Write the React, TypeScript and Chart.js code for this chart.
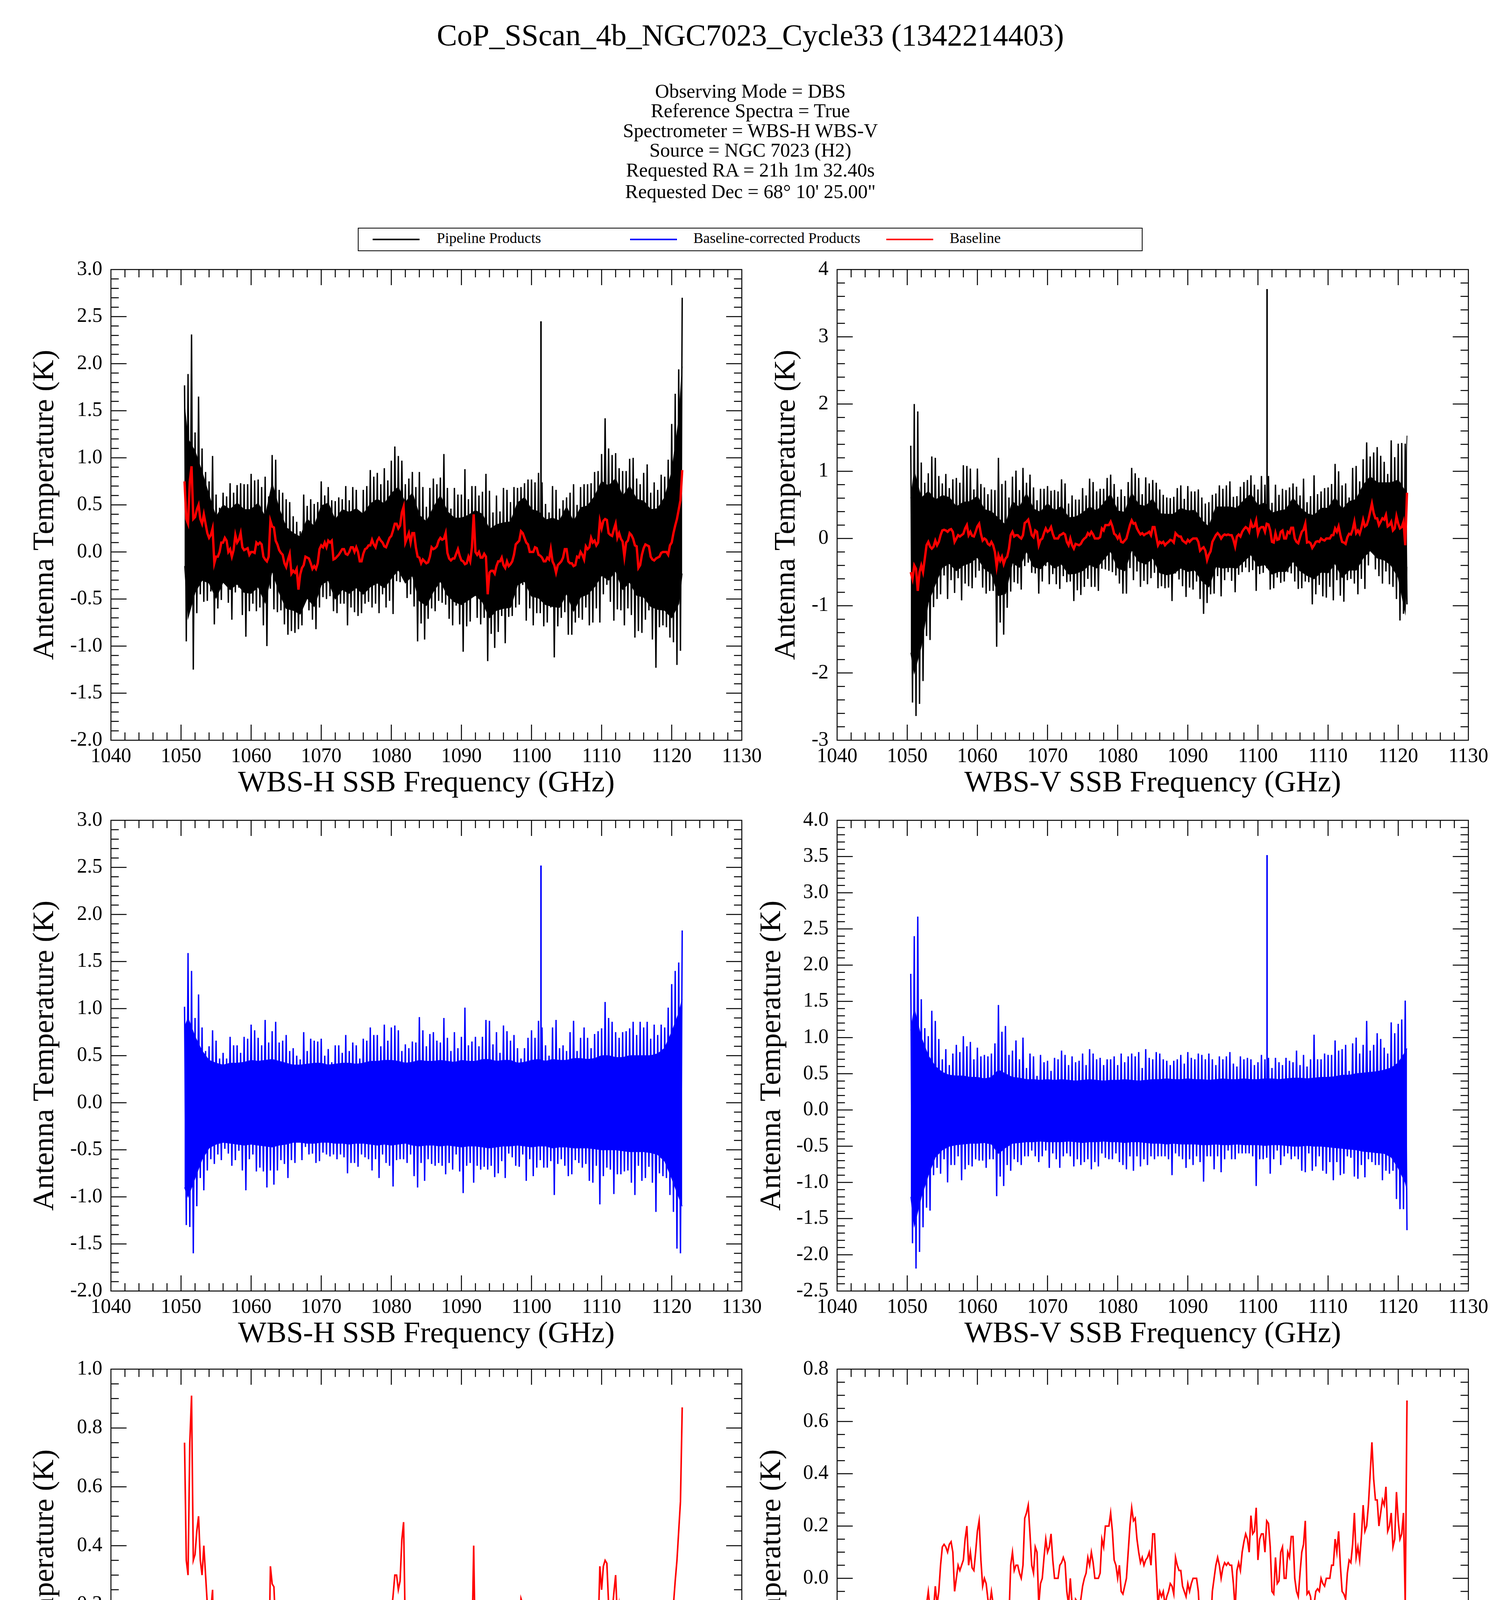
import React, { useEffect, useRef } from 'react';
import { Chart, registerables } from 'chart.js';

Chart.register(...registerables);

const FONT = "'Liberation Serif', 'Times New Roman', Times, serif";

// ---------------- data ----------------
const FREQ_START = 1050.5; // GHz, first channel of both spectrometers
const FREQ_STEP = 0.25; // GHz between listed baseline samples
const FREQ_END_H = 1121.5; // last WBS-H channel
const FREQ_END_V = 1121.25; // last WBS-V channel

const X_MIN = 1040;
const X_MAX = 1130;
const X_STEP = 10;

// Baseline (red), WBS-H, 1050.50 ... 1121.50 GHz
const BASELINE_H = [
  0.75, 0.35,
  0.30, 0.75, 0.91, 0.35,
  0.37, 0.45, 0.50, 0.35,
  0.30, 0.40, 0.30, 0.20,
  0.15, 0.18, 0.25, -0.12,
  -0.05, -0.05, 0.00, 0.10,
  0.10, 0.15, 0.12, 0.00,
  0.03, -0.05, 0.02, 0.18,
  0.10, 0.13, 0.20, 0.05,
  0.02, 0.03, 0.04, -0.03,
  0.00, 0.00, -0.01, 0.10,
  0.08, 0.10, 0.08, -0.05,
  -0.08, -0.10, -0.05, 0.33,
  0.27, 0.26, 0.12, 0.08,
  0.02, -0.01, -0.03, -0.12,
  -0.16, -0.08, -0.02, -0.23,
  -0.20, -0.22, -0.18, -0.40,
  -0.24, -0.17, -0.14, -0.05,
  -0.06, -0.07, -0.12, -0.18,
  -0.15, -0.18, -0.12, 0.03,
  0.07, 0.05, 0.10, 0.05,
  0.12, 0.10, 0.12, -0.08,
  -0.07, -0.05, -0.03, 0.00,
  0.03, 0.03, -0.02, -0.03,
  0.00, 0.05, 0.05, 0.00,
  0.05, 0.00, -0.10, -0.10,
  -0.02, 0.03, 0.04, 0.07,
  0.07, 0.13, 0.08, 0.05,
  0.12, 0.15, 0.12, 0.10,
  0.06, 0.05, 0.10, 0.15,
  0.17, 0.23, 0.30, 0.30,
  0.25, 0.28, 0.42, 0.48,
  0.10, 0.15, 0.20, 0.10,
  0.20, 0.20, 0.05, -0.05,
  -0.06, -0.12, -0.08, -0.10,
  -0.12, -0.11, -0.05, 0.05,
  0.03, 0.04, 0.06, 0.12,
  0.15, 0.13, 0.14, 0.20,
  -0.01, -0.07, -0.09, -0.07,
  -0.07, -0.02, 0.03, -0.04,
  -0.09, -0.10, -0.13, -0.12,
  -0.05, -0.10, 0.05, 0.40,
  0.00, -0.03, 0.00, -0.06,
  -0.06, -0.02, -0.05, -0.45,
  -0.22, -0.20, -0.20, -0.23,
  -0.15, -0.10, -0.10, -0.06,
  -0.14, -0.17, -0.10, -0.15,
  -0.13, -0.10, -0.03, 0.08,
  0.10, 0.12, 0.22, 0.20,
  0.15, 0.10, 0.08, 0.00,
  0.00, 0.00, 0.05, 0.04,
  -0.03, -0.04, -0.06, -0.10,
  -0.10, -0.06, -0.08, 0.03,
  -0.10, -0.14, -0.22, -0.14,
  -0.12, -0.10, -0.06, 0.03,
  0.03, -0.10, -0.12, -0.12,
  -0.15, -0.14, -0.05, -0.06,
  0.00, -0.03, -0.08, 0.06,
  0.03, 0.05, 0.15, 0.10,
  0.12, 0.07, 0.10, 0.33,
  0.25, 0.33, 0.35, 0.34,
  0.20, 0.18, 0.17, 0.24,
  0.30, 0.15, 0.20, 0.14,
  0.11, -0.05, 0.10, 0.12,
  0.20, 0.18, 0.14, 0.07,
  0.06, -0.17, -0.14, -0.03,
  0.04, 0.08, 0.07, 0.06,
  -0.05, -0.08, -0.09, -0.07,
  -0.06, -0.05, -0.01, 0.00,
  0.00, 0.00, -0.03, 0.07,
  0.10, 0.20, 0.28, 0.35,
  0.45, 0.55, 0.87,
];

// Baseline (red), WBS-V, 1050.50 ... 1121.25 GHz
const BASELINE_V = [
  -0.50, -0.60,
  -0.40, -0.45, -0.78, -0.50,
  -0.40, -0.50, -0.30, -0.10,
  -0.05, -0.12, -0.15, -0.12,
  -0.03, -0.10, -0.05, 0.05,
  0.12, 0.13, 0.12, 0.10,
  0.13, 0.14, 0.10, -0.05,
  0.00, 0.05, 0.03, 0.05,
  0.07, 0.15, 0.20, 0.05,
  0.10, 0.04, 0.03, 0.10,
  0.18, 0.22, 0.07, -0.03,
  0.00, -0.02, -0.08, -0.10,
  -0.05, -0.10, -0.20, -0.42,
  -0.25, -0.33, -0.27, -0.38,
  -0.30, -0.27, -0.15, 0.05,
  0.10, 0.03, 0.05, 0.05,
  0.02, 0.00, 0.05, 0.23,
  0.25, 0.28, 0.17, 0.05,
  0.02, 0.12, 0.10, -0.10,
  -0.02, 0.00, 0.08, 0.15,
  0.10, 0.12, 0.17, 0.07,
  0.00, 0.00, 0.00, 0.05,
  0.06, 0.08, 0.06, -0.05,
  -0.10, 0.00, -0.10, -0.15,
  -0.08, -0.09, -0.10, -0.08,
  -0.03, 0.00, 0.02, 0.08,
  0.05, 0.10, 0.06, 0.00,
  0.00, 0.00, 0.02, 0.15,
  0.12, 0.20, 0.20, 0.20,
  0.25, 0.18, 0.07, 0.05,
  0.00, 0.05, -0.05, -0.06,
  -0.03, 0.00, 0.10, 0.20,
  0.27, 0.22, 0.23, 0.15,
  0.10, 0.06, 0.08, 0.05,
  0.07, 0.08, 0.10, 0.05,
  0.17, 0.17, 0.03, -0.10,
  -0.05, -0.07, -0.05, -0.10,
  -0.07, -0.05, -0.02, -0.03,
  -0.06, 0.08, 0.05, 0.03,
  0.03, -0.03, -0.05, -0.07,
  -0.02, -0.05, -0.02, 0.00,
  0.00, 0.00, -0.05, -0.18,
  -0.15, -0.13, -0.18, -0.32,
  -0.24, -0.19, -0.05, 0.00,
  0.05, 0.08, 0.05, 0.00,
  0.04, 0.06, 0.05, 0.06,
  0.05, 0.05, -0.02, -0.12,
  0.03, 0.06, 0.03, 0.10,
  0.14, 0.17, 0.15, 0.10,
  0.24, 0.17, 0.18, 0.27,
  0.07, 0.15, 0.17, 0.17,
  0.10, 0.22, 0.21, 0.12,
  -0.05, -0.06, 0.08, -0.02,
  -0.01, 0.10, 0.12, 0.00,
  0.00, 0.10, 0.08, 0.16,
  0.16, 0.00, -0.05, -0.07,
  0.02, 0.10, 0.13, 0.22,
  -0.06, -0.05, -0.07, -0.14,
  -0.10, -0.05, -0.04, -0.05,
  0.00, -0.02, -0.03, 0.00,
  0.00, 0.00, 0.05, 0.05,
  0.15, 0.10, 0.18, 0.05,
  -0.05, -0.06, -0.08, 0.02,
  0.07, 0.06, 0.13, 0.25,
  0.08, 0.12, 0.07, 0.16,
  0.28, 0.18, 0.20, 0.28,
  0.40, 0.52, 0.38, 0.30,
  0.30, 0.20, 0.25, 0.30,
  0.28, 0.35, 0.18, 0.20,
  0.25, 0.12, 0.15, 0.33,
  0.22, 0.15, 0.17, 0.25,
  -0.10, 0.68,
];

// Baseline-corrected WBS-H: noise spike maxima at 1050.5, 1051.0 ... 1121.5 GHz
const CORRECTED_H_HIGH = [
  1.02, 1.59, 1.40, 0.90, 1.15, 0.80, 0.55, 0.60, 0.77, 0.66,
  0.47, 0.53, 0.47, 0.70, 0.61, 0.61, 0.53, 0.70, 0.68, 0.83,
  0.77, 0.69, 0.61, 0.88, 0.64, 0.76, 0.86, 0.64, 0.66, 0.72,
  0.55, 0.58, 0.50, 0.46, 0.75, 0.55, 0.68, 0.66, 0.65, 0.68,
  0.50, 0.57, 0.43, 0.61, 0.61, 0.53, 0.72, 0.55, 0.64, 0.61,
  0.47, 0.68, 0.66, 0.80, 0.72, 0.72, 0.60, 0.83, 0.66, 0.80,
  0.82, 0.77, 0.55, 0.62, 0.58, 0.65, 0.64, 0.91, 0.77, 0.60,
  0.73, 0.75, 0.66, 0.64, 0.90, 0.69, 0.55, 0.75, 0.58, 0.70,
  1.01, 0.61, 0.65, 0.70, 0.60, 0.70, 0.88, 0.87, 0.62, 0.75,
  0.53, 0.82, 0.76, 0.66, 0.72, 0.58, 0.47, 0.58, 0.69, 0.77,
  0.69, 0.87, 0.80, 0.61, 0.50, 0.80, 0.88, 0.58, 0.61, 0.55,
  0.75, 0.87, 0.55, 0.69, 0.80, 0.69, 0.58, 0.73, 0.76, 0.79,
  1.07, 0.90, 0.86, 0.75, 0.69, 0.75, 0.76, 0.79, 0.86, 0.72,
  0.86, 0.80, 0.86, 0.68, 0.83, 0.72, 0.83, 0.80, 1.01, 1.26,
  1.40, 1.49, 1.83,
];

// Baseline-corrected WBS-H: noise spike minima at 1050.75, 1051.25 ... 1121.25 GHz
const CORRECTED_H_LOW = [
  -1.30, -1.32, -1.60, -1.10, -0.80, -0.93, -0.72, -0.60, -0.65, -0.55,
  -0.61, -0.49, -0.54, -0.67, -0.61, -0.51, -0.72, -0.93, -0.60, -0.55,
  -0.73, -0.69, -0.73, -0.90, -0.72, -0.87, -0.72, -0.61, -0.65, -0.80,
  -0.61, -0.64, -0.42, -0.61, -0.47, -0.55, -0.54, -0.64, -0.62, -0.53,
  -0.55, -0.57, -0.55, -0.60, -0.55, -0.58, -0.75, -0.64, -0.64, -0.68,
  -0.55, -0.58, -0.60, -0.72, -0.60, -0.80, -0.55, -0.64, -0.67, -0.89,
  -0.61, -0.60, -0.60, -0.64, -0.55, -0.78, -0.90, -0.64, -0.83, -0.60,
  -0.65, -0.67, -0.64, -0.67, -0.76, -0.64, -0.71, -0.55, -0.73, -0.96,
  -0.67, -0.64, -0.85, -0.67, -0.71, -0.68, -0.71, -0.67, -0.79, -0.75,
  -0.62, -0.80, -0.54, -0.58, -0.67, -0.68, -0.55, -0.83, -0.60, -0.78,
  -0.69, -0.61, -0.69, -0.69, -0.62, -0.98, -0.65, -0.60, -0.67, -0.78,
  -0.76, -0.61, -0.64, -0.69, -0.65, -0.83, -0.85, -0.67, -1.08, -0.78,
  -0.69, -0.71, -0.97, -0.76, -0.76, -0.73, -0.72, -0.85, -0.98, -0.67,
  -0.83, -0.80, -0.68, -0.85, -1.16, -0.75, -0.78, -0.80, -0.98, -1.16,
  -1.55, -1.60,
];

// Baseline-corrected WBS-H: edges of the solid noise core at 1050.5, 1051, 1052 ... 1121, 1121.5 GHz
const CORE_H_UP = [
  0.80, 0.90, 0.70, 0.55, 0.45, 0.42, 0.40, 0.42, 0.42, 0.43,
  0.45, 0.44, 0.45, 0.46, 0.44, 0.42, 0.40, 0.40, 0.41, 0.42,
  0.42, 0.40, 0.41, 0.42, 0.42, 0.41, 0.42, 0.44, 0.44, 0.45,
  0.45, 0.44, 0.42, 0.43, 0.45, 0.44, 0.44, 0.45, 0.44, 0.43,
  0.45, 0.44, 0.44, 0.46, 0.46, 0.44, 0.45, 0.45, 0.42, 0.43,
  0.45, 0.46, 0.44, 0.46, 0.45, 0.45, 0.47, 0.47, 0.46, 0.47,
  0.50, 0.50, 0.48, 0.48, 0.50, 0.50, 0.50, 0.50, 0.52, 0.58,
  0.75, 0.95, 1.10,
];
const CORE_H_DN = [
  -0.90, -1.00, -0.80, -0.60, -0.48, -0.44, -0.42, -0.43, -0.44, -0.45,
  -0.44, -0.45, -0.46, -0.47, -0.45, -0.44, -0.42, -0.42, -0.43, -0.43,
  -0.42, -0.42, -0.43, -0.43, -0.44, -0.43, -0.43, -0.44, -0.45, -0.44,
  -0.45, -0.44, -0.43, -0.45, -0.46, -0.45, -0.45, -0.46, -0.45, -0.46,
  -0.47, -0.46, -0.46, -0.47, -0.48, -0.47, -0.46, -0.46, -0.45, -0.46,
  -0.47, -0.46, -0.46, -0.48, -0.47, -0.47, -0.48, -0.48, -0.48, -0.49,
  -0.50, -0.50, -0.50, -0.51, -0.52, -0.52, -0.52, -0.53, -0.55, -0.62,
  -0.80, -1.00, -1.10,
];

// Baseline-corrected WBS-V: noise spike maxima at 1050.5, 1051.0 ... 1121.0 GHz
const CORRECTED_V_HIGH = [
  1.88, 2.40, 2.67, 1.53, 1.13, 1.02, 1.37, 1.23, 0.98, 0.70,
  0.84, 0.62, 0.78, 0.90, 0.80, 1.02, 0.88, 0.94, 0.70, 0.86,
  0.74, 0.76, 0.74, 0.78, 0.92, 1.45, 1.08, 1.16, 0.76, 0.82,
  0.96, 0.70, 1.00, 0.58, 0.78, 0.74, 0.47, 0.76, 0.66, 0.68,
  0.54, 0.72, 0.70, 0.82, 0.76, 0.62, 0.74, 0.66, 0.68, 0.78,
  0.62, 0.84, 0.78, 0.70, 0.72, 0.62, 0.70, 0.70, 0.74, 0.62,
  0.78, 0.66, 0.74, 0.78, 0.74, 0.80, 0.58, 0.84, 0.72, 0.70,
  0.80, 0.78, 0.70, 0.68, 0.62, 0.68, 0.70, 0.76, 0.64, 0.80,
  0.72, 0.70, 0.78, 0.76, 0.70, 0.78, 0.70, 0.62, 0.74, 0.70,
  0.74, 0.80, 0.64, 0.60, 0.74, 0.70, 0.72, 0.70, 0.62, 0.66,
  0.76, 0.70, 0.72, 0.58, 0.72, 0.66, 0.62, 0.72, 0.68, 0.66,
  0.82, 0.62, 0.76, 0.60, 0.70, 1.04, 0.70, 0.70, 0.78, 0.76,
  0.76, 0.96, 0.82, 0.84, 0.90, 0.54, 0.92, 1.00, 0.78, 0.90,
  1.23, 0.82, 0.90, 1.06, 0.98, 0.86, 0.78, 1.21, 1.06, 1.19,
  1.25, 1.51,
];

// Baseline-corrected WBS-V: noise spike minima at 1050.75, 1051.25 ... 1121.25 GHz
const CORRECTED_V_LOW = [
  -1.84, -2.19, -1.96, -1.62, -1.35, -1.39, -0.90, -0.80, -0.88, -0.68,
  -1.00, -0.76, -0.76, -0.64, -0.97, -0.82, -0.76, -0.78, -0.68, -0.70,
  -0.70, -0.80, -0.68, -0.68, -1.19, -0.92, -1.05, -0.76, -0.84, -0.68,
  -0.72, -0.76, -0.64, -0.64, -0.56, -0.64, -0.72, -0.64, -0.56, -0.80,
  -0.60, -0.68, -0.80, -0.64, -0.60, -0.64, -0.78, -0.68, -0.76, -0.72,
  -0.68, -0.82, -0.72, -0.78, -0.60, -0.66, -0.68, -0.68, -0.60, -0.72,
  -0.76, -0.82, -0.64, -0.84, -0.64, -0.78, -0.68, -0.76, -0.64, -0.68,
  -0.64, -0.64, -0.64, -0.68, -0.90, -0.60, -0.64, -0.68, -0.80, -0.68,
  -0.76, -0.64, -0.72, -0.99, -0.64, -0.64, -0.82, -0.64, -0.86, -0.68,
  -0.56, -0.68, -0.68, -0.60, -0.60, -0.60, -0.60, -0.64, -1.05, -0.68,
  -0.68, -0.66, -0.88, -0.68, -0.56, -0.76, -0.64, -0.60, -0.68, -0.64,
  -0.68, -0.84, -0.86, -0.60, -0.84, -0.78, -0.64, -0.84, -0.88, -0.72,
  -0.97, -0.72, -0.90, -0.88, -0.64, -0.66, -0.92, -0.95, -0.76, -0.93,
  -0.68, -0.72, -0.76, -0.76, -0.97, -0.84, -0.88, -0.84, -1.23, -1.37,
  -1.37, -1.66,
];

// Baseline-corrected WBS-V: edges of the solid noise core at 1050.5, 1051, 1052 ... 1121, 1121.25 GHz
const CORE_V_UP = [
  1.10, 1.40, 1.00, 0.75, 0.60, 0.52, 0.48, 0.47, 0.47, 0.45,
  0.45, 0.43, 0.45, 0.55, 0.50, 0.45, 0.44, 0.42, 0.42, 0.41,
  0.42, 0.41, 0.42, 0.41, 0.40, 0.41, 0.42, 0.41, 0.40, 0.41,
  0.41, 0.42, 0.41, 0.40, 0.41, 0.42, 0.42, 0.43, 0.42, 0.42,
  0.43, 0.42, 0.42, 0.41, 0.42, 0.43, 0.42, 0.42, 0.43, 0.42,
  0.42, 0.43, 0.43, 0.42, 0.43, 0.44, 0.44, 0.43, 0.44, 0.45,
  0.45, 0.46, 0.48, 0.48, 0.50, 0.51, 0.52, 0.53, 0.55, 0.58,
  0.65, 0.80, 0.85,
];
const CORE_V_DN = [
  -1.20, -1.60, -1.20, -0.90, -0.65, -0.55, -0.50, -0.48, -0.47, -0.46,
  -0.46, -0.45, -0.47, -0.60, -0.52, -0.46, -0.45, -0.44, -0.44, -0.43,
  -0.44, -0.44, -0.44, -0.43, -0.44, -0.45, -0.44, -0.44, -0.43, -0.44,
  -0.44, -0.45, -0.44, -0.44, -0.45, -0.46, -0.46, -0.47, -0.46, -0.47,
  -0.47, -0.47, -0.48, -0.48, -0.47, -0.48, -0.48, -0.47, -0.48, -0.48,
  -0.48, -0.49, -0.48, -0.48, -0.49, -0.50, -0.50, -0.49, -0.50, -0.50,
  -0.51, -0.52, -0.53, -0.54, -0.55, -0.57, -0.58, -0.59, -0.60, -0.65,
  -0.80, -1.00, -1.10,
];

// Narrow emission line seen in both spectrometers (GHz, corrected peak, pipeline peak)
const LINE_H_FREQ = 1101.35;
const LINE_H_CORRECTED_PEAK = 2.52;
const LINE_H_PIPELINE_PEAK = 2.45;
const LINE_V_FREQ = 1101.3;
const LINE_V_CORRECTED_PEAK = 3.52;
const LINE_V_PIPELINE_PEAK = 3.71;

// ---------------- helpers (build the tables Chart.js needs) ----------------
type Pt = { x: number; y: number };

const baseAt = (base: number[] | undefined, f: number) =>
  base ? base[Math.round((f - FREQ_START) / FREQ_STEP)] ?? 0 : 0;

const baselinePoints = (vals: number[]): Pt[] =>
  vals.map((y, i) => ({ x: FREQ_START + FREQ_STEP * i, y }));

// spikes: maxima on even samples, minima on odd samples, joined as one trace
function spikeTrace(high: number[], low: number[], base?: number[]): Pt[] {
  const out: Pt[] = [];
  for (let i = 0; i < high.length; i++) {
    const fh = FREQ_START + FREQ_STEP * 2 * i;
    out.push({ x: fh, y: high[i] + baseAt(base, fh) });
    if (i < low.length) {
      const fl = fh + FREQ_STEP;
      out.push({ x: fl, y: low[i] + baseAt(base, fl) });
    }
  }
  return out;
}

// core edge frequencies: first channel, every integer GHz, last channel
function coreFreqs(end: number): number[] {
  const f = [FREQ_START];
  for (let g = Math.ceil(FREQ_START); g < end; g++) f.push(g);
  f.push(end);
  return f;
}

const corePoints = (vals: number[], end: number, base?: number[]): Pt[] => {
  const fr = coreFreqs(end);
  return vals.slice(0, fr.length).map((y, i) => ({ x: fr[i], y: y + baseAt(base, fr[i]) }));
};

const linePoints = (freq: number, peak: number): Pt[] => [
  { x: freq, y: 0 },
  { x: freq, y: peak },
];

// ---------------- frame + inward ticks plugin ----------------
const frameTicks = {
  id: 'frameTicks',
  afterDraw(chart: any, _args: any, opts: any) {
    const { ctx, chartArea } = chart;
    const { left, right, top, bottom } = chartArea;
    const xs = chart.scales.x;
    const ys = chart.scales.y;
    const MAJ = 40;
    const MIN = 20;
    ctx.save();
    ctx.strokeStyle = '#000';
    ctx.lineWidth = 2.5;
    ctx.lineCap = 'butt';
    ctx.beginPath();
    const isMajor = (v: number, step: number) => Math.abs(v / step - Math.round(v / step)) < 1e-6;
    const nx = Math.round((xs.max - xs.min) / opts.xMinor);
    for (let i = 1; i < nx; i++) {
      const v = xs.min + i * opts.xMinor;
      const px = xs.getPixelForValue(v);
      const len = isMajor(v, opts.xMajor) ? MAJ : MIN;
      ctx.moveTo(px, bottom);
      ctx.lineTo(px, bottom - len);
      ctx.moveTo(px, top);
      ctx.lineTo(px, top + len);
    }
    const ny = Math.round((ys.max - ys.min) / opts.yMinor);
    for (let i = 1; i < ny; i++) {
      const v = ys.min + i * opts.yMinor;
      const py = ys.getPixelForValue(v);
      const len = isMajor(v, opts.yMajor) ? MAJ : MIN;
      ctx.moveTo(left, py);
      ctx.lineTo(left + len, py);
      ctx.moveTo(right, py);
      ctx.lineTo(right - len, py);
    }
    ctx.stroke();
    ctx.strokeRect(left, top, right - left, bottom - top);
    ctx.restore();
  },
};

// ---------------- panel layout ----------------
const Y_SCALE_W = 284;
const X_SCALE_H = 160;
const PAD_TOP = 40;
const PAD_RIGHT = 70;

type PanelCfg = {
  plotLeft: number;
  plotTop: number;
  plotW: number;
  plotH: number;
  yMin: number;
  yMax: number;
  yStep: number;
  yMinor: number;
  yDecimals: number;
  yTitlePad: number;
  xTitle: string;
  datasets: any[];
};

const BLACK = '#000000';
const BLUE = '#0000ff';
const RED = '#ff0000';

const lineDs = (pts: Pt[], color: string, order: number, width: number, fill: any = false) => ({
  data: pts,
  borderColor: color,
  backgroundColor: color,
  borderWidth: width,
  pointRadius: 0,
  fill,
  tension: 0,
  order,
  borderJoinStyle: 'miter',
});

// noise: solid core (filled between its edges), spike trace on top, plus the narrow line
type Spec = { high: number[]; low: number[]; up: number[]; dn: number[]; end: number };
const SPEC_H: Spec = { high: CORRECTED_H_HIGH, low: CORRECTED_H_LOW, up: CORE_H_UP, dn: CORE_H_DN, end: FREQ_END_H };
const SPEC_V: Spec = { high: CORRECTED_V_HIGH, low: CORRECTED_V_LOW, up: CORE_V_UP, dn: CORE_V_DN, end: FREQ_END_V };

const noiseDs = (s: Spec, base: number[] | undefined, lineFreq: number, linePeak: number, color: string, order: number) => [
  lineDs(corePoints(s.up, s.end, base), color, order, 2, { target: '+1' }),
  lineDs(corePoints(s.dn, s.end, base), color, order, 2),
  lineDs(spikeTrace(s.high, s.low, base), color, order, 3.5),
  lineDs(linePoints(lineFreq, linePeak), color, order, 4),
];

const LEFT_X = 284;
const RIGHT_X = 2143;
const W_L = 1615;
const W_R = 1616;
const ROW_TOP = [682, 2092, 3497];
const ROW_H = 1213;

const PANELS: PanelCfg[] = [
  {
    plotLeft: LEFT_X, plotTop: ROW_TOP[0], plotW: W_L, plotH: ROW_H,
    yMin: -2, yMax: 3, yStep: 0.5, yMinor: 0.1, yDecimals: 1, yTitlePad: 77,
    xTitle: 'WBS-H SSB Frequency (GHz)',
    datasets: [
      lineDs(baselinePoints(BASELINE_H), RED, 0, 6),
      ...noiseDs(SPEC_H, BASELINE_H, LINE_H_FREQ, LINE_H_PIPELINE_PEAK, BLACK, 1),
    ],
  },
  {
    plotLeft: RIGHT_X, plotTop: ROW_TOP[0], plotW: W_R, plotH: ROW_H,
    yMin: -3, yMax: 4, yStep: 1, yMinor: 0.2, yDecimals: 0, yTitlePad: 116,
    xTitle: 'WBS-V SSB Frequency (GHz)',
    datasets: [
      lineDs(baselinePoints(BASELINE_V), RED, 0, 6),
      ...noiseDs(SPEC_V, BASELINE_V, LINE_V_FREQ, LINE_V_PIPELINE_PEAK, BLACK, 1),
    ],
  },
  {
    plotLeft: LEFT_X, plotTop: ROW_TOP[1], plotW: W_L, plotH: ROW_H,
    yMin: -2, yMax: 3, yStep: 0.5, yMinor: 0.1, yDecimals: 1, yTitlePad: 77,
    xTitle: 'WBS-H SSB Frequency (GHz)',
    datasets: noiseDs(SPEC_H, undefined, LINE_H_FREQ, LINE_H_CORRECTED_PEAK, BLUE, 0),
  },
  {
    plotLeft: RIGHT_X, plotTop: ROW_TOP[1], plotW: W_R, plotH: ROW_H,
    yMin: -2.5, yMax: 4, yStep: 0.5, yMinor: 0.1, yDecimals: 1, yTitlePad: 79,
    xTitle: 'WBS-V SSB Frequency (GHz)',
    datasets: noiseDs(SPEC_V, undefined, LINE_V_FREQ, LINE_V_CORRECTED_PEAK, BLUE, 0),
  },
  {
    plotLeft: LEFT_X, plotTop: ROW_TOP[2], plotW: W_L, plotH: ROW_H,
    yMin: -0.6, yMax: 1.0, yStep: 0.2, yMinor: 0.05, yDecimals: 1, yTitlePad: 77,
    xTitle: 'WBS-H SSB Frequency (GHz)',
    datasets: [lineDs(baselinePoints(BASELINE_H), RED, 0, 4)],
  },
  {
    plotLeft: RIGHT_X, plotTop: ROW_TOP[2], plotW: W_R, plotH: ROW_H,
    yMin: -1.0, yMax: 0.8, yStep: 0.2, yMinor: 0.05, yDecimals: 1, yTitlePad: 79,
    xTitle: 'WBS-V SSB Frequency (GHz)',
    datasets: [lineDs(baselinePoints(BASELINE_V), RED, 0, 4)],
  },
];

function Panel({ cfg }: { cfg: PanelCfg }) {
  const ref = useRef<HTMLCanvasElement | null>(null);
  const W = Y_SCALE_W + cfg.plotW + PAD_RIGHT;
  const H = PAD_TOP + cfg.plotH + X_SCALE_H;
  useEffect(() => {
    if (!ref.current) return;
    const chart = new Chart(ref.current, {
      type: 'line',
      data: { datasets: cfg.datasets },
      options: {
        animation: false,
        responsive: false,
        maintainAspectRatio: false,
        devicePixelRatio: 1,
        events: [],
        layout: { padding: { left: 0, top: PAD_TOP, right: PAD_RIGHT, bottom: 0 } },
        plugins: {
          legend: { display: false },
          tooltip: { enabled: false },
          title: { display: false },
          filler: { propagate: false },
          frameTicks: { xMajor: X_STEP, xMinor: 2, yMajor: cfg.yStep, yMinor: cfg.yMinor },
        } as any,
        scales: {
          x: {
            type: 'linear',
            min: X_MIN,
            max: X_MAX,
            afterFit: (s: any) => { s.height = X_SCALE_H; },
            grid: { display: false, drawTicks: false },
            border: { display: false },
            ticks: {
              stepSize: X_STEP,
              autoSkip: false,
              maxRotation: 0,
              minRotation: 0,
              padding: 16,
              color: '#000',
              font: { family: FONT, size: 52, lineHeight: 1 },
              callback: (v: any) => String(Math.round(Number(v))),
            },
            title: {
              display: true,
              text: cfg.xTitle,
              color: '#000',
              font: { family: FONT, size: 77, lineHeight: 1 },
              padding: { top: 0, bottom: 11 },
            },
          },
          y: {
            type: 'linear',
            min: cfg.yMin,
            max: cfg.yMax,
            afterFit: (s: any) => { s.width = Y_SCALE_W; },
            grid: { display: false, drawTicks: false },
            border: { display: false },
            ticks: {
              stepSize: cfg.yStep,
              autoSkip: false,
              padding: 22,
              color: '#000',
              font: { family: FONT, size: 52, lineHeight: 1 },
              callback: (v: any) => Number(v).toFixed(cfg.yDecimals),
            },
            title: {
              display: true,
              text: 'Antenna Temperature (K)',
              color: '#000',
              font: { family: FONT, size: 77, lineHeight: 1 },
              padding: { top: cfg.yTitlePad, bottom: 0 },
            },
          },
        },
        elements: { point: { radius: 0 }, line: { tension: 0 } },
      } as any,
      plugins: [frameTicks as any],
    });
    return () => chart.destroy();
  }, [cfg]);
  return (
    <canvas
      ref={ref}
      width={W}
      height={H}
      style={{
        position: 'absolute',
        left: cfg.plotLeft - Y_SCALE_W,
        top: cfg.plotTop - PAD_TOP,
        width: W,
        height: H,
      }}
    />
  );
}

const TITLE = 'CoP_SScan_4b_NGC7023_Cycle33 (1342214403)';
const SUBTITLE_LINES = [
  'Observing Mode = DBS',
  'Reference Spectra = True',
  'Spectrometer = WBS-H WBS-V',
  'Source = NGC 7023 (H2)',
  'Requested RA = 21h 1m 32.40s',
  'Requested Dec = 68\u00b0 10\' 25.00"',
];
const SUBTITLE_BASELINES = [250, 300, 351, 401, 452, 507];
const LEGEND_ITEMS = [
  { label: 'Pipeline Products', color: BLACK, lineX: 954, textX: 1118 },
  { label: 'Baseline-corrected Products', color: BLUE, lineX: 1613, textX: 1775 },
  { label: 'Baseline', color: RED, lineX: 2269, textX: 2431 },
];

function baselineTop(baseline: number, size: number) {
  // line-height == font-size; Liberation Serif ascent 0.891, descent 0.216
  return baseline - 0.8375 * size;
}

export default function App() {
  useEffect(() => {
    document.body.style.margin = '0';
    document.body.style.background = '#ffffff';
  }, []);
  return (
    <div
      style={{
        position: 'absolute',
        left: 0,
        top: 0,
        width: 3840,
        height: 4943,
        background: '#ffffff',
        fontFamily: FONT,
        color: '#000',
        overflow: 'hidden',
      }}
    >
      <div
        style={{
          position: 'absolute', left: 0, width: 3842, textAlign: 'center',
          top: baselineTop(116, 78), fontSize: 78, lineHeight: '78px', whiteSpace: 'nowrap',
        }}
      >
        {TITLE}
      </div>
      {SUBTITLE_LINES.map((t, i) => (
        <div
          key={t}
          style={{
            position: 'absolute', left: 0, width: 3842, textAlign: 'center',
            top: baselineTop(SUBTITLE_BASELINES[i], 50), fontSize: 50, lineHeight: '50px', whiteSpace: 'nowrap',
          }}
        >
          {t}
        </div>
      ))}
      <div
        style={{
          position: 'absolute', left: 916, top: 583, width: 2009, height: 60,
          border: '2px solid #000', boxSizing: 'border-box',
        }}
      />
      {LEGEND_ITEMS.map((it) => (
        <React.Fragment key={it.label}>
          <div style={{ position: 'absolute', left: it.lineX, top: 611, width: 120, height: 4, background: it.color }} />
          <div
            style={{
              position: 'absolute', left: it.textX, top: baselineTop(622, 38), fontSize: 38,
              lineHeight: '38px', whiteSpace: 'nowrap',
            }}
          >
            {it.label}
          </div>
        </React.Fragment>
      ))}
      {PANELS.map((p, i) => (
        <Panel key={i} cfg={p} />
      ))}
    </div>
  );
}
